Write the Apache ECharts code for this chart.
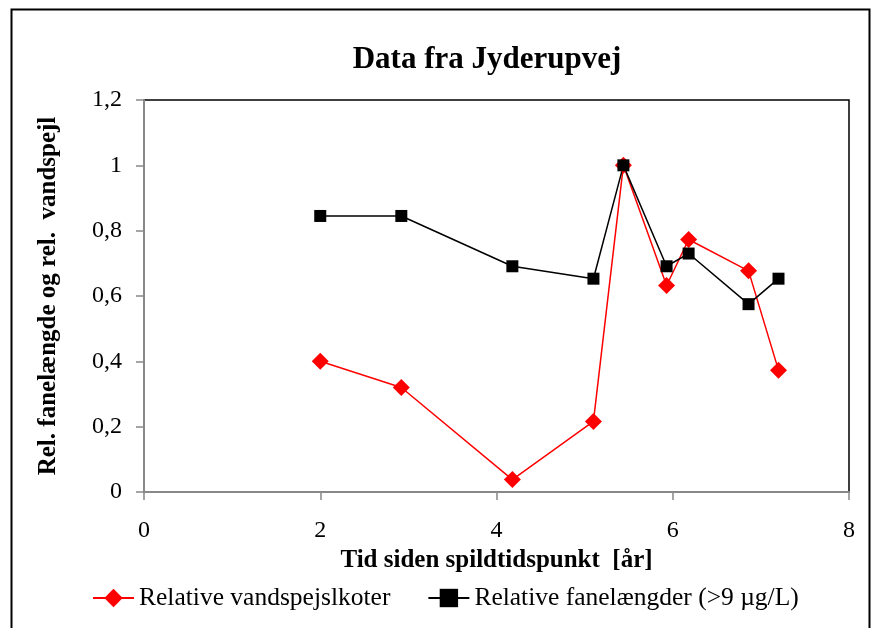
<!DOCTYPE html>
<html>
<head>
<meta charset="utf-8">
<script src="https://cdn.jsdelivr.net/npm/echarts@6/dist/echarts.min.js"></script>
<style>
  html, body { margin: 0; padding: 0; background: #fff; }
  #chart { width: 874px; height: 628px; }
</style>
</head>
<body>
<div id="chart"></div>
<script>
// years since spill (x)
const years = [2.0, 2.92, 4.18, 5.10, 5.44, 5.93, 6.18, 6.86, 7.20]
const waterLevel = [0.40, 0.32, 0.038, 0.216, 1.0, 0.632, 0.773, 0.677, 0.373]
const plumeLength = [0.845, 0.845, 0.691, 0.653, 1.0, 0.691, 0.730, 0.575, 0.653]
const seriesNames = ['Relative vandspejslkoter', 'Relative fanelængder (>9 µg/L)']

const serif = '"Liberation Serif", "Times New Roman", serif'

function pairs(xs, ys) {
  return xs.map((x, i) => [x, ys[i]])
}

const myChart = echarts.init(document.getElementById('chart'))
myChart.setOption({
  animation: false,
  backgroundColor: '#fff',
  title: {
    text: 'Data fra Jyderupvej',
    left: 482,
    top: 39,
    textAlign: 'center',
    textStyle: { fontFamily: serif, fontSize: 31, fontWeight: 'bold', color: '#000' },
  },
  graphic: [
    {
      type: 'rect',
      shape: { x: 11.5, y: 9.5, width: 858, height: 640 },
      style: { fill: 'none', stroke: '#000', lineWidth: 2 },
      silent: true,
    },
  ],
  grid: {
    left: 144,
    right: 25,
    top: 100,
    bottom: 136,
    show: true,
    borderColor: '#000',
    borderWidth: 1.5,
  },
  legend: {
    top: 585,
    left: 92,
    padding: 0,
    itemWidth: 41,
    itemHeight: 23,
    itemGap: 37,
    textStyle: { fontFamily: serif, fontSize: 25.5, color: '#000' },
    data: seriesNames,
  },
  xAxis: {
    type: 'value',
    min: 0,
    max: 8,
    interval: 2,
    name: 'Tid siden spildtidspunkt  [år]',
    nameLocation: 'middle',
    nameGap: 46,
    nameTextStyle: { fontFamily: serif, fontSize: 25, fontWeight: 'bold', color: '#000' },
    axisLine: { lineStyle: { color: '#888', width: 2 } },
    axisTick: { length: 8, lineStyle: { color: '#888', width: 1.5 } },
    axisLabel: { margin: 27, fontFamily: serif, fontSize: 24, color: '#000' },
    splitLine: { show: false },
  },
  yAxis: {
    type: 'value',
    min: 0,
    max: 1.2,
    interval: 0.2,
    name: 'Rel. fanelængde og rel.  vandspejl',
    nameLocation: 'middle',
    nameGap: 83,
    nameTextStyle: { fontFamily: serif, fontSize: 25, fontWeight: 'bold', color: '#000' },
    axisLine: { show: true, lineStyle: { color: '#888', width: 2 } },
    axisTick: { show: true, length: 8, lineStyle: { color: '#888', width: 1.5 } },
    axisLabel: {
      margin: 22,
      fontFamily: serif,
      fontSize: 24,
      color: '#000',
      formatter: v => String(Math.round(v * 10) / 10).replace('.', ','),
    },
    splitLine: { show: false },
  },
  series: [
    {
      name: seriesNames[0],
      type: 'line',
      data: pairs(years, waterLevel),
      symbol: 'diamond',
      symbolSize: 17,
      itemStyle: { color: '#ff0000' },
      lineStyle: { color: '#ff0000', width: 1.5 },
    },
    {
      name: seriesNames[1],
      type: 'line',
      data: pairs(years, plumeLength),
      symbol: 'rect',
      symbolSize: 12,
      itemStyle: { color: '#000' },
      lineStyle: { color: '#000', width: 1.5 },
    },
  ],
})
</script>
</body>
</html>
